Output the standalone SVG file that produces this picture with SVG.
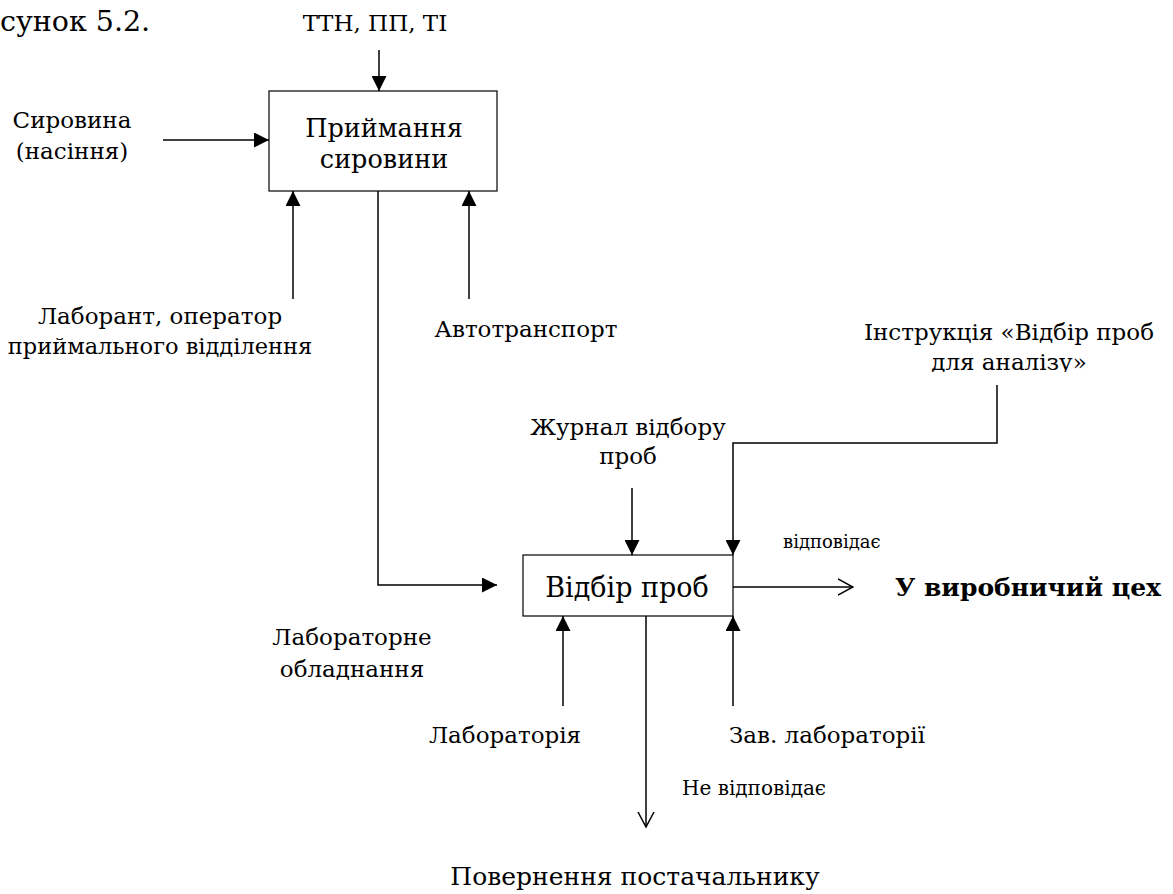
<svg xmlns="http://www.w3.org/2000/svg" width="1173" height="894" viewBox="0 0 1173 894">
<style>
text{font-family:'DejaVu Serif',serif;fill:#000}
.lbl{font-size:23px}
.box{font-size:25.5px}
.sm{font-size:18px}
.box-r{fill:#fff;stroke:#000;stroke-width:1.2}
.ln{fill:none;stroke:#000;stroke-width:1.5}
.f{marker-end:url(#fa)}
.o{marker-end:url(#oa)}
</style>
<defs>
<marker id="fa" viewBox="0 0 15 15" refX="15" refY="7.5" markerWidth="15" markerHeight="15" orient="auto" markerUnits="userSpaceOnUse"><path d="M0,0 L15,7.5 L0,15 z" fill="#000"/></marker>
<marker id="oa" viewBox="0 0 16 20" refX="15" refY="10" markerWidth="16" markerHeight="20" orient="auto" markerUnits="userSpaceOnUse"><path d="M0,2 L15,10 L0,18" fill="none" stroke="#000" stroke-width="1.5"/></marker>
<clipPath id="clipInstr"><rect x="800" y="300" width="373" height="72"/></clipPath>
</defs>
<rect width="1173" height="894" fill="#fff"/>
<text x="0" y="31" style="font-size:28.5px">сунок 5.2.</text>

<g id="connectors">
<path class="ln f" d="M379,50 L379,91"/>
<path class="ln f" d="M163,140 L269,140"/>
<path class="ln f" d="M293,299 L293,191"/>
<path class="ln f" d="M469,299 L469,191"/>
<path class="ln f" d="M378,191 L378,585 L497,585"/>
<path class="ln f" d="M632,488 L632,555"/>
<path class="ln f" d="M997,385 L997,443 L733,443 L733,555"/>
<path class="ln o" d="M733,587 L853,587"/>
<path class="ln f" d="M563,706 L563,616"/>
<path class="ln f" d="M733,706 L733,616"/>
<path class="ln o" d="M646,616 L646,827"/>
</g>

<g id="node-pryimannia">
<rect class="box-r" x="269" y="91" width="228" height="100"/>
<text class="box" x="384" y="137" text-anchor="middle">Приймання</text>
<text class="box" x="384" y="168" text-anchor="middle">сировини</text>
</g>

<g id="node-vidbir">
<rect class="box-r" x="523" y="555" width="210" height="61"/>
<text x="627" y="597" text-anchor="middle" style="font-size:27px">Відбір проб</text>
</g>

<g id="labels">
<text class="lbl" x="375" y="31" text-anchor="middle">ТТН, ПП, ТІ</text>
<text class="lbl" x="72" y="128" text-anchor="middle">Сировина</text>
<text class="lbl" x="72" y="159" text-anchor="middle">(насіння)</text>
<text class="lbl" x="160" y="324" text-anchor="middle">Лаборант, оператор</text>
<text class="lbl" x="160" y="354" text-anchor="middle" style="font-size:22.5px">приймального відділення</text>
<text class="lbl" x="526" y="337" text-anchor="middle">Автотранспорт</text>
<text class="lbl" x="1009" y="340" text-anchor="middle">Інструкція «Відбір проб</text>
<text class="lbl" x="1009" y="370" text-anchor="middle" clip-path="url(#clipInstr)">для аналізу»</text>
<text class="lbl" x="628" y="435" text-anchor="middle">Журнал відбору</text>
<text class="lbl" x="628" y="464" text-anchor="middle">проб</text>
<text class="sm" x="783" y="548">відповідає</text>
<text x="895" y="596" style="font-size:25px;font-weight:bold">У виробничий цех</text>
<text class="lbl" x="352" y="645" text-anchor="middle">Лабораторне</text>
<text class="lbl" x="352" y="677" text-anchor="middle">обладнання</text>
<text class="lbl" x="505" y="743" text-anchor="middle">Лабораторія</text>
<text class="lbl" x="827" y="743" text-anchor="middle">Зав. лабораторії</text>
<text x="682" y="795" style="font-size:20px">Не відповідає</text>
<text class="lbl" x="635" y="885" text-anchor="middle" style="font-size:25px">Повернення постачальнику</text>
</g>
</svg>
